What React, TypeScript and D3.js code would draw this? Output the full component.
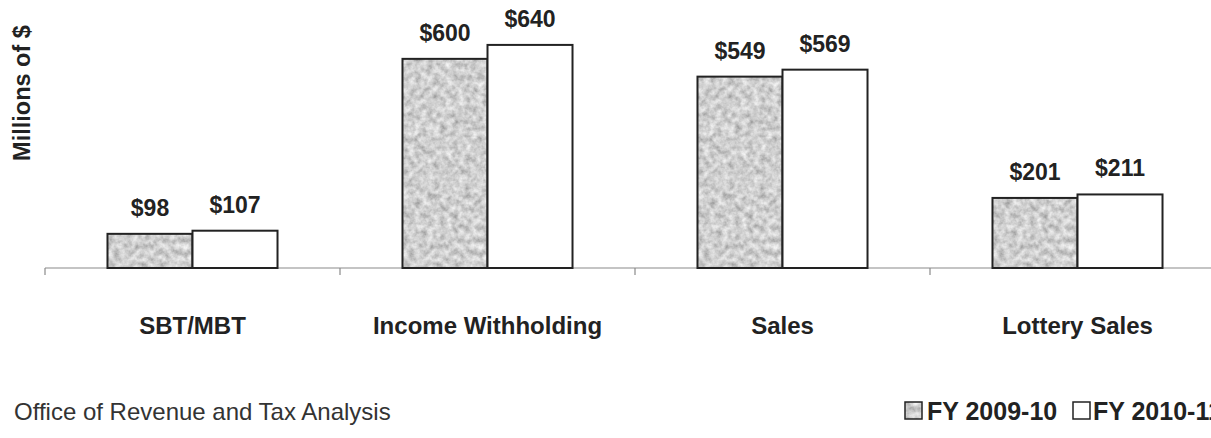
import React from "react";
import * as d3 from "d3";

const categories = ["SBT/MBT", "Income Withholding", "Sales", "Lottery Sales"];
const seriesNames = ["FY 2009-10", "FY 2010-11"];
const fy0910 = [98, 600, 549, 201];
const fy1011 = [107, 640, 569, 211];

const W = 1211;
const H = 438;
const FONT = "'Liberation Sans', Arial, sans-serif";

export default function App() {
  const x0 = d3.scaleBand<string>().domain(categories).range([45, 1225]).paddingInner(0);
  const x1 = d3
    .scaleBand<string>()
    .domain(seriesNames)
    .range([0, x0.bandwidth()])
    .paddingInner(0)
    .paddingOuter(0.735);
  const y = d3.scaleLinear().domain([0, 700]).range([268, 24]);

  const rows = categories.map((c, i) => ({ cat: c, vals: [fy0910[i], fy1011[i]] }));
  const boundaries = categories.map((c) => x0(c)!).concat([x0.range()[1]]);

  return (
    <svg
      width={W}
      height={H}
      style={{ position: "absolute", left: 0, top: 0, background: "#fff" }}
      fontFamily={FONT}
    >
      <defs>
        {/* mottled grey fill for the FY 2009-10 bars */}
        <filter id="grain" x="0" y="0" width="100%" height="100%">
          <feTurbulence type="fractalNoise" baseFrequency="0.16" numOctaves={3} seed={7} result="noise" />
          <feColorMatrix
            in="noise"
            type="matrix"
            values="0.75 0 0 0 0.25  0.75 0 0 0 0.25  0.75 0 0 0 0.25  0 0 0 0 1"
            result="gray"
          />
          <feComposite in="gray" in2="SourceAlpha" operator="in" />
        </filter>
      </defs>

      {/* category axis */}
      <line x1={45} x2={W} y1={y(0)} y2={y(0)} stroke="#8a8a8a" strokeWidth={1.2} />
      {boundaries.map((b, i) => (
        <line key={i} x1={b} x2={b} y1={y(0)} y2={y(0) + 7} stroke="#8a8a8a" strokeWidth={1.2} />
      ))}

      {rows.map((r) => (
        <g key={r.cat} transform={`translate(${x0(r.cat)},0)`}>
          {r.vals.map((v, j) => {
            const bx = x1(seriesNames[j])!;
            const by = y(v);
            const bh = y(0) - y(v);
            return (
              <g key={j}>
                {j === 0 ? (
                  <rect x={bx} y={by} width={x1.bandwidth()} height={bh} fill="#a0a0a0" filter="url(#grain)" />
                ) : (
                  <rect x={bx} y={by} width={x1.bandwidth()} height={bh} fill="#fff" />
                )}
                <rect
                  x={bx}
                  y={by}
                  width={x1.bandwidth()}
                  height={bh}
                  fill="none"
                  stroke="#222"
                  strokeWidth={2}
                />
                <text
                  x={bx + x1.bandwidth() / 2}
                  y={by - 18}
                  textAnchor="middle"
                  fontSize={23}
                  fontWeight="bold"
                  fill="#222"
                >
                  {`$${v}`}
                </text>
              </g>
            );
          })}
          <text
            x={x0.bandwidth() / 2}
            y={334}
            textAnchor="middle"
            fontSize={24}
            fontWeight="bold"
            fill="#222"
          >
            {r.cat}
          </text>
        </g>
      ))}

      {/* y-axis title */}
      <text
        transform="translate(30,93) rotate(-90)"
        textAnchor="middle"
        fontSize={23.5}
        fontWeight="bold"
        fill="#222"
      >
        Millions of $
      </text>

      {/* source note */}
      <text x={14} y={420} fontSize={24} fill="#333">
        Office of Revenue and Tax Analysis
      </text>

      {/* legend */}
      <g>
        <rect x={905} y={402} width={17} height={17} fill="#a0a0a0" filter="url(#grain)" />
        <rect x={905} y={402} width={17} height={17} fill="none" stroke="#222" strokeWidth={1.5} />
        <text x={927} y={420} fontSize={25} fontWeight="bold" fill="#222">
          {seriesNames[0]}
        </text>
        <rect x={1073} y={402} width={17} height={17} fill="#fff" stroke="#222" strokeWidth={1.5} />
        <text x={1093} y={420} fontSize={25} fontWeight="bold" fill="#222">
          {seriesNames[1]}
        </text>
      </g>
    </svg>
  );
}
